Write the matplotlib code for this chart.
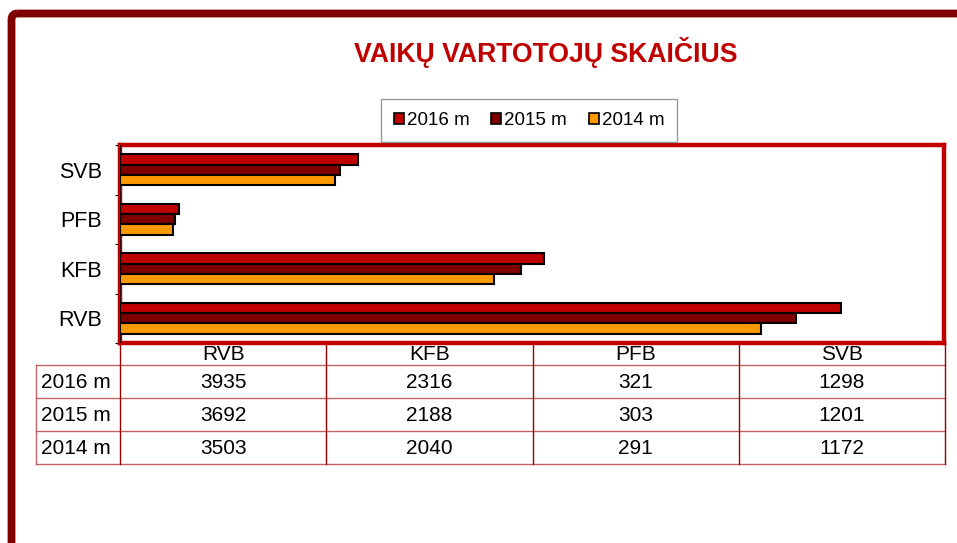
import numpy as np
import matplotlib.pyplot as plt
from matplotlib.patches import FancyBboxPatch, Patch

# data
categories = ['RVB', 'KFB', 'PFB', 'SVB']
series_names = ['2016 m', '2015 m', '2014 m']
values_2016 = [3935, 2316, 321, 1298]
values_2015 = [3692, 2188, 303, 1201]
values_2014 = [3503, 2040, 291, 1172]
colors = ['#c00000', '#800000', '#ff9900']

plt.rcParams['font.family'] = ['Liberation Sans', 'DejaVu Sans']

W, H = 957, 543
fig = plt.figure(figsize=(W / 100, H / 100), dpi=100)


def fig_rect(x0, y0, x1, y1):
    # pixel box (top-left origin) -> figure fraction rect
    return [x0 / W, 1 - y1 / H, (x1 - x0) / W, (y1 - y0) / H]


# overlay in pixel coordinates for frame and table
ov = fig.add_axes([0, 0, 1, 1])
ov.set_xlim(0, W)
ov.set_ylim(H, 0)
ov.axis('off')

frame = FancyBboxPatch((11.5, 13.5), 1200, 800, boxstyle='round,pad=0,rounding_size=6',
                       fill=False, edgecolor='#800000', linewidth=5.6)
ov.add_patch(frame)

fig.text(546 / W, 1 - 52 / H, 'VAIKŲ VARTOTOJŲ SKAIČIUS', ha='center', va='center',
         fontsize=19.2, fontweight='bold', color='#c00000')

# bar chart
ax = fig.add_axes(fig_rect(120, 145, 944, 343))
y = np.arange(len(categories))
h = 0.212
for vals, off, c in zip([values_2016, values_2015, values_2014], [h, 0, -h], colors):
    ax.barh(y + off, vals, height=h, color=c, edgecolor='black', linewidth=1.5, zorder=3)
ax.set_xlim(0, 4500)
ax.set_ylim(-0.5, len(categories) - 0.5)
ax.set_yticks(y)
ax.set_yticklabels(categories, fontsize=15.5)
ax.tick_params(axis='y', length=0, pad=13)
ax.set_yticks(np.arange(-0.5, len(categories)), minor=True)
ax.tick_params(axis='y', which='minor', length=3.5, color='black', width=0.8)
ax.set_xticks([])
for s in ax.spines.values():
    s.set_edgecolor('#c00000')
    s.set_linewidth(3.2)
ax.axvline(0, color='black', linewidth=1.2, zorder=4)

# legend
handles = [Patch(facecolor=c, edgecolor='black', linewidth=1.2) for c in colors]
leg = fig.legend(handles, series_names, loc='center', bbox_to_anchor=(529 / W, 1 - 120.5 / H),
                 ncol=3, fontsize=13.5, frameon=True, fancybox=False, edgecolor='#808080',
                 handlelength=0.55, handleheight=0.55, handletextpad=0.15,
                 columnspacing=1.15, borderpad=0.7)
leg.get_frame().set_linewidth(1.0)

# data table
x_lab0, x_col0, x_end = 36, 120, 945
y_head, y_rows = 343, [365, 398, 431, 464]
col_w = (x_end - x_col0) / len(categories)
col_x = [x_col0 + i * col_w for i in range(len(categories) + 1)]
hcol = '#c46262'
vcol = '#990000'
for yy in y_rows:
    ov.plot([x_lab0, x_end], [yy, yy], color=hcol, lw=1.0)
ov.plot([x_lab0, x_lab0], [y_rows[0], y_rows[-1]], color=hcol, lw=1.0)
for xx in col_x:
    ov.plot([xx, xx], [y_head, y_rows[-1]], color=vcol, lw=1.0)
for i, cat in enumerate(categories):
    ov.text((col_x[i] + col_x[i + 1]) / 2, (y_head + y_rows[0]) / 2 + 1, cat,
            ha='center', va='center', fontsize=15)
table_vals = [values_2016, values_2015, values_2014]
for r, (name, vals) in enumerate(zip(series_names, table_vals)):
    yc = (y_rows[r] + y_rows[r + 1]) / 2 + 1
    ov.text(x_lab0 + 5, yc, name, ha='left', va='center', fontsize=15)
    for i, v in enumerate(vals):
        ov.text((col_x[i] + col_x[i + 1]) / 2, yc, str(v), ha='center', va='center', fontsize=15)

fig.savefig('out.png', dpi=100)
